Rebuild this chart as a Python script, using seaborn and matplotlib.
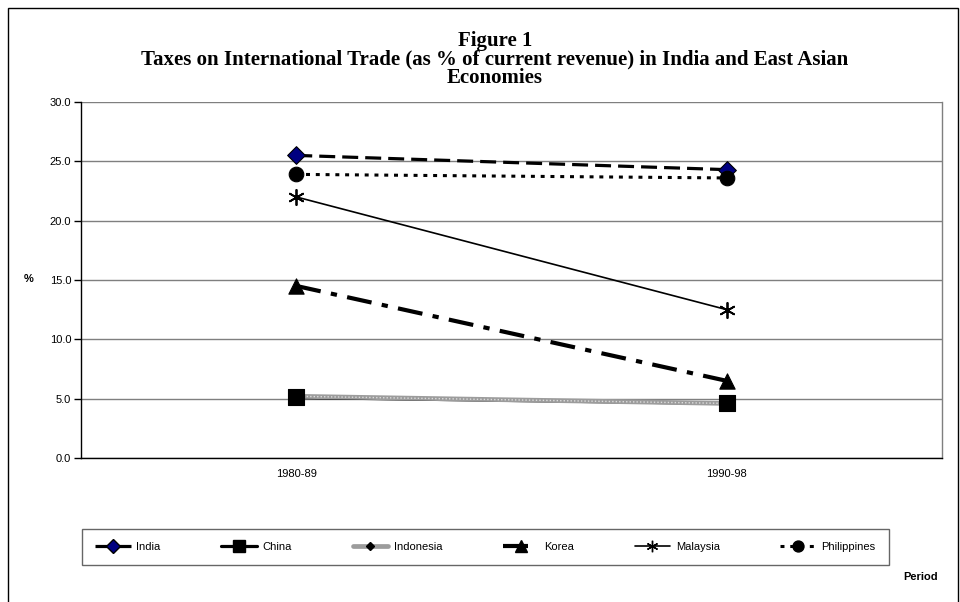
import matplotlib
matplotlib.use("Agg")
import matplotlib.pyplot as plt
import seaborn as sns
import pandas as pd
from matplotlib.lines import Line2D
from matplotlib.patches import Rectangle

periods = ["1980-89", "1990-98"]
countries = ["India", "China", "Indonesia", "Korea", "Malaysia", "Philippines"]
india = [25.5, 24.3]
china = [5.1, 4.6]
indonesia = [5.2, 4.6]
korea = [14.5, 6.5]
malaysia = [22.0, 12.5]
philippines = [23.9, 23.6]
yticks = [0, 5, 10, 15, 20, 25, 30]

values = {"India": india, "China": china, "Indonesia": indonesia,
          "Korea": korea, "Malaysia": malaysia, "Philippines": philippines}
rows = []
for c in countries:
    for p, v in zip(periods, values[c]):
        rows.append({"Country": c, "Period": p, "Value": v})
df = pd.DataFrame(rows)

sns.set_theme(style="white")
plt.rcParams["font.family"] = ["Liberation Sans", "DejaVu Sans"]
plt.rcParams["text.color"] = "black"
plt.rcParams["xtick.color"] = "black"
plt.rcParams["ytick.color"] = "black"
plt.rcParams["xtick.labelcolor"] = "black"
plt.rcParams["ytick.labelcolor"] = "black"
plt.rcParams["axes.labelcolor"] = "black"

styles = {
    "India": dict(color="black", lw=2.3, dashes=(5.0, 2.2), zl=3.0,
                  marker="D", ms=9, mfc="#000080", mec="black", mz=5.0),
    "China": dict(color="black", lw=2.3, dashes=None, zl=3.0,
                  marker="s", ms=11, mfc="black", mec="black", mz=5.3),
    "Indonesia": dict(color="#9c9c9c", lw=3.4, dashes=None, zl=3.2,
                      marker="D", ms=6, mfc="black", mec="black", mz=5.1),
    "Korea": dict(color="black", lw=3.0, dashes=(6.0, 2.5, 1.5, 2.5), zl=3.0,
                  marker="^", ms=11, mfc="black", mec="black", mz=5.2),
    "Malaysia": dict(color="black", lw=1.2, dashes=None, zl=3.0,
                     marker=(6, 2, 0), ms=11, mfc="black", mec="black", mz=5.4),
    "Philippines": dict(color="black", lw=2.2, dashes=(1.3, 1.9), zl=3.0,
                        marker="o", ms=10.5, mfc="black", mec="black", mz=5.5),
}

fig = plt.figure(figsize=(9.6, 6.02), dpi=100)
ax = fig.add_axes([81 / 960, (602 - 458) / 602, (942 - 81) / 960, (458 - 102) / 602])

for c in countries:
    st = styles[c]
    sub = df[df["Country"] == c]
    sns.lineplot(data=sub, x="Period", y="Value", ax=ax, color=st["color"],
                 lw=st["lw"], zorder=st["zl"], legend=False, sort=False)
    ln = ax.lines[-1]
    if st["dashes"] is not None:
        ln.set_dashes(st["dashes"])
        ln.set_dash_capstyle("butt")
    if c == "Indonesia":
        sns.lineplot(data=sub, x="Period", y="Value", ax=ax, color="#dcdcdc",
                     lw=1.0, zorder=st["zl"] + 0.05, legend=False, sort=False)
        ax.lines[-1].set_dashes((1.0, 1.5))

for c in countries:
    st = styles[c]
    sub = df[df["Country"] == c]
    lw_m = 1.3 if c == "Malaysia" else 0.8
    sns.scatterplot(data=sub, x="Period", y="Value", ax=ax, marker=st["marker"],
                    s=st["ms"] ** 2, color=st["mfc"], edgecolor=st["mec"],
                    linewidth=lw_m, zorder=st["mz"], legend=False)

ax.set_xlim(-0.5, 1.5)
ax.set_ylim(0, 30)
ax.set_yticks(yticks)
ax.set_yticklabels([f"{t:.1f}" for t in yticks], fontsize=8, color="black")
ax.set_xticks([0, 1])
ax.set_xticklabels(periods, fontsize=8, color="black")
ax.set_xticks([-0.5, 0.5, 1.5], minor=True)
ax.tick_params(axis="x", which="major", length=0, pad=8)
ax.tick_params(axis="x", which="minor", length=5, width=1, color="black", direction="out")
ax.tick_params(axis="y", length=5, width=1, color="black", direction="out", left=True, pad=2)
ax.set_xlabel("")
ax.set_ylabel("")
ax.yaxis.grid(True, color="#7f7f7f", lw=1.0)
ax.xaxis.grid(False)
ax.set_axisbelow(True)
for s in ["left", "bottom"]:
    ax.spines[s].set_color("black")
    ax.spines[s].set_linewidth(1.0)
    ax.spines[s].set_zorder(6)
ax.spines["right"].set_color("#7f7f7f")
ax.spines["right"].set_linewidth(1.0)
ax.spines["top"].set_visible(False)

# Title (one multi-line text, tight spacing as in the reference)
fig.text(495 / 960, 1 - 88 / 602,
         "Figure 1\nTaxes on International Trade (as % of current revenue) in India and East Asian\nEconomies",
         family=["Liberation Serif", "DejaVu Serif"], weight="bold", fontsize=15,
         color="black", ha="center", va="bottom", multialignment="center", linespacing=0.9)

fig.text(29 / 960, 1 - 279 / 602, "%", fontsize=8, weight="bold", color="black",
         ha="center", va="center")
fig.text(921 / 960, 1 - 577 / 602, "Period", fontsize=8, weight="bold", color="black",
         ha="center", va="center")

# Legend
handles = []
for c in countries:
    st = styles[c]
    ls = (0, st["dashes"]) if st["dashes"] is not None else "-"
    h = Line2D([0], [0], color=st["color"], lw=st["lw"], linestyle=ls, marker=st["marker"],
               markersize=st["ms"] * 0.75, markerfacecolor=st["mfc"], markeredgecolor=st["mec"],
               dash_capstyle="butt")
    handles.append(h)
leg = fig.legend(handles, countries, loc="center", ncol=6, mode="expand",
                 bbox_to_anchor=(82 / 960, 20 / 602, (889 - 82) / 960, 70 / 602),
                 fontsize=8, frameon=True, fancybox=False, handlelength=3.2,
                 borderaxespad=0, borderpad=1.2, handletextpad=0.5, labelcolor="black")
leg.get_frame().set_edgecolor("#404040")
leg.get_frame().set_linewidth(1.0)

fig.patches.append(Rectangle((8 / 960, -0.05), (958 - 8) / 960, 1.05 - 8 / 602,
                             transform=fig.transFigure, fill=False, edgecolor="black",
                             lw=1.0, clip_on=False))

fig.savefig("out.png", dpi=100, facecolor="white")
